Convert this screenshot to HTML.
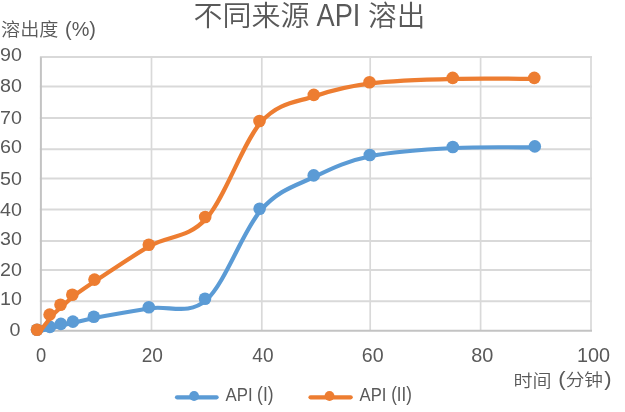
<!DOCTYPE html>
<html lang="zh-CN"><head><meta charset="utf-8"><title>不同来源 API 溶出</title>
<style>html,body{margin:0;padding:0;background:#fff}body{width:625px;height:412px;overflow:hidden}svg{display:block}text{font-family:"Liberation Sans","Noto Sans CJK SC",sans-serif;font-weight:350;fill:#595959}</style></head><body>
<svg width="625" height="412" viewBox="0 0 625 412">
<rect width="625" height="412" fill="#fff"/>
<g stroke="#d9d9d9" stroke-width="2" fill="none">
<line x1="39.9" y1="57.00" x2="592.0" y2="57.00"/>
<line x1="39.9" y1="86.60" x2="592.0" y2="86.60"/>
<line x1="39.9" y1="118.00" x2="592.0" y2="118.00"/>
<line x1="39.9" y1="149.20" x2="592.0" y2="149.20"/>
<line x1="39.9" y1="178.50" x2="592.0" y2="178.50"/>
<line x1="39.9" y1="209.50" x2="592.0" y2="209.50"/>
<line x1="39.9" y1="241.00" x2="592.0" y2="241.00"/>
<line x1="39.9" y1="270.00" x2="592.0" y2="270.00"/>
<line x1="39.9" y1="301.30" x2="592.0" y2="301.30"/>
<line x1="151.5" y1="56.9" x2="151.5" y2="330.7" stroke-width="1.7"/>
<line x1="261.8" y1="56.9" x2="261.8" y2="330.7" stroke-width="1.7"/>
<line x1="370.2" y1="56.9" x2="370.2" y2="330.7" stroke-width="1.7"/>
<line x1="480.6" y1="56.9" x2="480.6" y2="330.7" stroke-width="1.7"/>
<line x1="591.0" y1="56.9" x2="591.0" y2="330.7" stroke-width="1.7"/>
</g>
<g stroke="#c3c3c3" stroke-width="2" fill="none">
<line x1="40.9" y1="57.2" x2="40.9" y2="331.7"/>
<line x1="39.9" y1="330.7" x2="592.0" y2="330.7"/>
</g>
<path d="M40.5 330.8 C42.5 330.3 48.8 328.9 52.6 327.9 C56.4 326.9 59.4 325.8 63.1 324.9 C66.8 324.0 69.4 323.8 74.8 322.6 C80.2 321.4 82.8 320.1 95.4 317.7 C108.0 315.3 131.9 311.2 150.4 308.2 C168.9 305.2 188.1 316.1 206.6 299.7 C225.1 283.3 243.1 230.4 261.2 209.8 C279.3 189.2 296.9 185.4 315.3 176.4 C333.7 167.4 348.2 160.7 371.4 156.0 C394.6 151.3 426.9 149.4 454.4 148.0 C481.9 146.6 522.7 147.5 536.4 147.4" fill="none" stroke="#5b9bd5" stroke-width="4.2" stroke-linecap="round" stroke-linejoin="round"/>
<g fill="#5b9bd5"><circle cx="37.0" cy="329.8" r="6.3"/><circle cx="49.9" cy="326.9" r="6.3"/><circle cx="60.9" cy="323.9" r="6.3"/><circle cx="72.9" cy="321.6" r="6.3"/><circle cx="93.8" cy="316.7" r="6.3"/><circle cx="148.8" cy="307.2" r="6.3"/><circle cx="205.0" cy="298.7" r="6.3"/><circle cx="259.6" cy="208.8" r="6.3"/><circle cx="313.7" cy="175.4" r="6.3"/><circle cx="369.8" cy="155.0" r="6.3"/><circle cx="452.8" cy="147.0" r="6.3"/><circle cx="534.8" cy="146.4" r="6.3"/></g>
<path d="M40.5 330.8 C42.5 328.3 48.6 319.8 52.3 315.6 C56.0 311.4 59.1 309.1 62.8 305.8 C66.4 302.5 68.6 299.9 74.2 295.7 C79.8 291.5 83.4 288.9 96.1 280.6 C108.8 272.3 132.0 256.1 150.4 245.7 C168.8 235.3 188.3 238.6 206.8 218.0 C225.2 197.4 243.0 142.3 261.1 122.0 C279.2 101.7 297.1 102.4 315.4 95.9 C333.7 89.5 348.0 86.1 371.1 83.3 C394.2 80.5 426.8 79.6 454.3 78.9 C481.8 78.2 522.3 78.9 535.9 78.9" fill="none" stroke="#ed7d31" stroke-width="4.2" stroke-linecap="round" stroke-linejoin="round"/>
<g fill="#ed7d31"><circle cx="37.0" cy="329.8" r="6.3"/><circle cx="49.6" cy="314.6" r="6.3"/><circle cx="60.5" cy="304.8" r="6.3"/><circle cx="72.3" cy="294.7" r="6.3"/><circle cx="94.5" cy="279.6" r="6.3"/><circle cx="148.8" cy="244.7" r="6.3"/><circle cx="205.2" cy="217.0" r="6.3"/><circle cx="259.5" cy="121.0" r="6.3"/><circle cx="313.8" cy="94.9" r="6.3"/><circle cx="369.5" cy="82.3" r="6.3"/><circle cx="452.7" cy="77.9" r="6.3"/><circle cx="534.3" cy="77.9" r="6.3"/></g>
<line x1="177" y1="397.3" x2="216.6" y2="397.3" stroke="#5b9bd5" stroke-width="4.2" stroke-linecap="round"/><circle cx="194.1" cy="396" r="4.9" fill="#5b9bd5"/>
<line x1="310.5" y1="397.3" x2="350.7" y2="397.3" stroke="#ed7d31" stroke-width="4.2" stroke-linecap="round"/><circle cx="329.5" cy="396" r="4.9" fill="#ed7d31"/>
<text transform="matrix(0.9904 0 0 0.9832 193.51 26.09)" font-size="29.3" font-weight="400">不同来源</text>
<text transform="matrix(0.9281 0 0 1.0420 316.50 25.70)" font-size="29.3" font-weight="400">API</text>
<text transform="matrix(0.9751 0 0 0.9741 368.08 26.11)" font-size="29.3" font-weight="400">溶出</text>
<text transform="matrix(0.9562 0 0 0.9205 1.08 36.02)" font-size="20">溶出度</text>
<text transform="matrix(0.9930 0 0 1.0000 65.06 35.70)" font-size="20">(%)</text>
<text transform="matrix(0.9534 0 0 0.8658 513.53 386.50)" font-size="20">时间</text>
<text transform="matrix(0.8393 0 0 0.9309 225.60 400.60)" font-size="20">API</text>
<text transform="matrix(0.8677 0 0 0.9838 257.12 400.56)" font-size="20">(I)</text>
<text transform="matrix(0.8328 0 0 0.9309 359.60 400.60)" font-size="20">API</text>
<text transform="matrix(0.8455 0 0 0.9838 391.14 400.56)" font-size="20">(II)</text>
<text transform="matrix(0.9158 0 0 0.9895 35.91 361.85)" font-size="20">0</text>
<text transform="matrix(0.9561 0 0 0.9895 141.64 361.85)" font-size="20">20</text>
<text transform="matrix(0.9524 0 0 0.9895 252.32 361.85)" font-size="20">40</text>
<text transform="matrix(0.9805 0 0 0.9895 361.82 361.85)" font-size="20">60</text>
<text transform="matrix(0.9951 0 0 0.9895 471.20 361.85)" font-size="20">80</text>
<text transform="matrix(0.9919 0 0 0.9895 577.06 361.85)" font-size="20">100</text>
<text transform="matrix(0.9850 0 0 0.9333 -0.03 61.42)" font-size="20">90</text>
<text transform="matrix(0.9850 0 0 0.9333 -0.03 92.12)" font-size="20">80</text>
<text transform="matrix(0.9850 0 0 0.9333 -0.03 124.02)" font-size="20">70</text>
<text transform="matrix(0.9850 0 0 0.9333 -0.03 152.92)" font-size="20">60</text>
<text transform="matrix(0.9850 0 0 0.9333 -0.03 184.52)" font-size="20">50</text>
<text transform="matrix(0.9850 0 0 0.9333 -0.03 215.82)" font-size="20">40</text>
<text transform="matrix(0.9850 0 0 0.9333 -0.03 244.52)" font-size="20">30</text>
<text transform="matrix(0.9850 0 0 0.9333 -0.03 275.82)" font-size="20">20</text>
<text transform="matrix(0.9850 0 0 0.9333 -0.03 305.12)" font-size="20">10</text>
<text transform="matrix(0.9850 0 0 0.9333 9.60 336.12)" font-size="20">0</text>
<text transform="matrix(0.9351 0 0 0.8548 0 386.32)" font-size="20" x="596.94 604.92 624.92 646.3" y="-0.8 0 0 -0.8"><tspan font-size="23.5">(</tspan>分钟<tspan font-size="23.5">)</tspan></text>
</svg></body></html>
